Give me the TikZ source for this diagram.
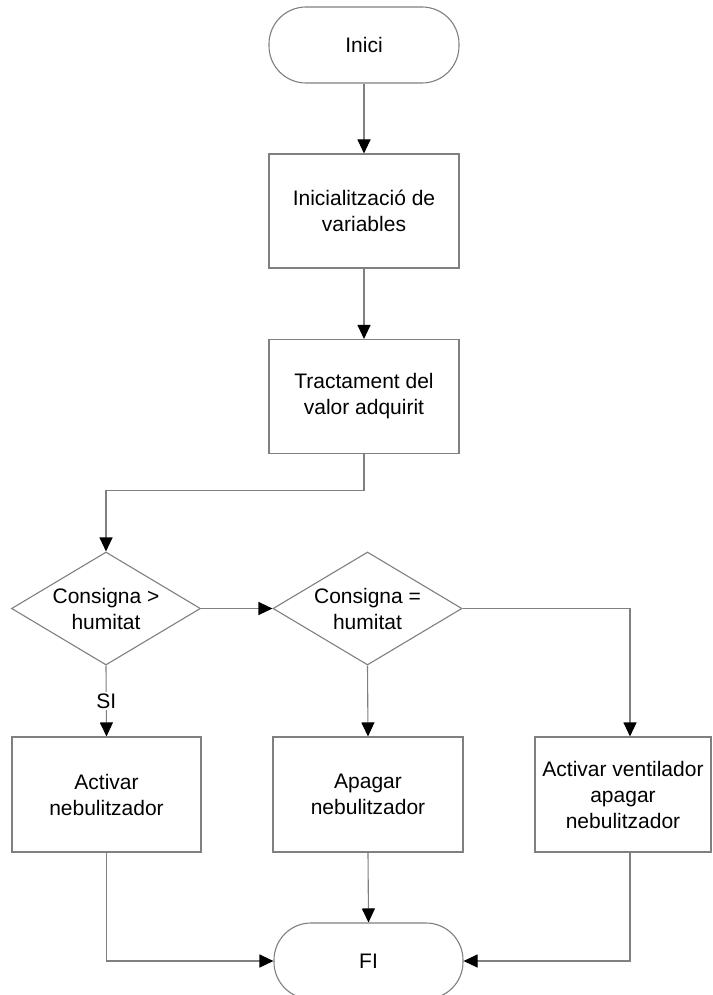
\documentclass[tikz,border=0pt]{standalone}
\usepackage{fontspec}
\setmainfont{Liberation Sans}
\usetikzlibrary{shapes.geometric,arrows.meta}
\definecolor{linegray}{HTML}{808080}
\begin{document}
\begin{tikzpicture}[x=1pt,y=-1pt,
  font=\fontsize{21}{26}\selectfont,
  shape line/.style={draw=linegray, line width=1.1pt},
  terminal/.style={shape line, rectangle, rounded corners=37pt,
    minimum width=190pt, minimum height=76pt, inner sep=0pt},
  process/.style={shape line, rectangle, minimum width=190pt,
    minimum height=114pt, align=center, inner sep=0pt},
  decision/.style={shape line, diamond, aspect=1.66, minimum width=189pt,
    minimum height=113pt, align=center, inner sep=0pt},
  link/.style={draw=linegray, line width=1.1pt},
  flow/.style={link, -{Triangle[width=13pt,length=14pt,color=black]}}
]
% page area
\fill[white] (0,0) rectangle (712,995);
\useasboundingbox (0,0) rectangle (712,995);

% main column
\node[terminal] (start) at (364,45) {Inici};
\node[process] (init) at (364,211) {Inicialització de\\variables};
\node[process] (proc) at (364,396.5) {Tractament del\\valor adquirit};

% decisions
\node[decision] (dgt) at (106,608.5) {Consigna >\\humitat};
\node[decision] (deq) at (367.5,608.5) {Consigna =\\humitat};

% actions
\node[process, minimum width=189pt, minimum height=115pt] (act) at (106.5,794.5) {Activar\\nebulitzador};
\node[process, minimum width=190pt, minimum height=115pt] (off) at (368,794.5) {Apagar\\nebulitzador};
\node[process, minimum width=176pt, minimum height=115pt] (fan) at (623,794.5) {Activar ventilador\\apagar\\nebulitzador};

% end
\node[terminal, minimum width=189pt] (stop) at (368.5,961) {FI};

% connectors
\draw[flow] (start) -- (init);
\draw[flow] (init) -- (proc);
\draw[flow] (proc.south) -- ++(0,36) -| (dgt.north);
\draw[flow] (dgt.east) -- (deq.west);
\draw[flow] (dgt.south) -- node[fill=white, inner sep=2pt] {SI} (act.north);
\draw[flow] (deq.south) -- (off.north);
\draw[flow] (deq.east) -| ([xshift=7pt]fan.north);
\draw[flow] (act.south) |- (stop.west);
\draw[flow] (off.south) -- (stop.north);
\draw[flow] ([xshift=7pt]fan.south) |- (stop.east);
\end{tikzpicture}
\end{document}
